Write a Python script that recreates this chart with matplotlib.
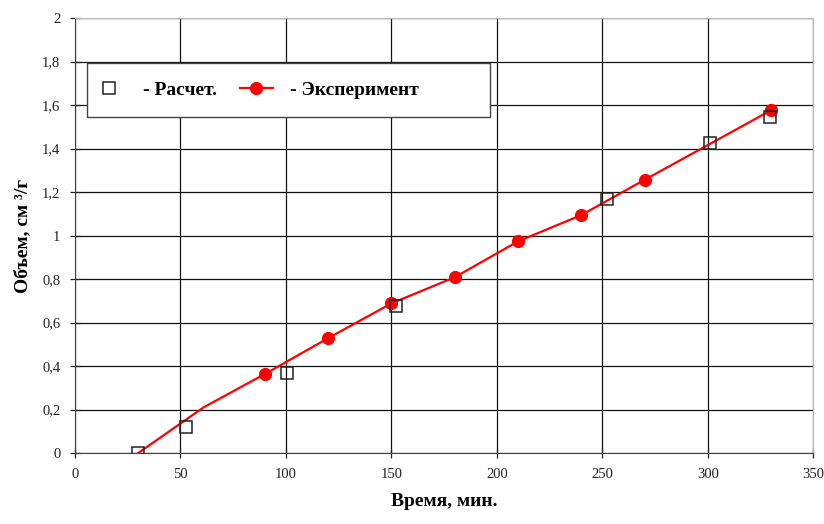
import matplotlib
matplotlib.use('Agg')
import matplotlib.pyplot as plt
from matplotlib.ticker import FuncFormatter, MultipleLocator
from matplotlib.lines import Line2D
from matplotlib.patches import Rectangle

plt.rcParams['font.family'] = ['Liberation Serif', 'DejaVu Serif']

# calculated points (squares)
calc_t = [30, 52.5, 100.5, 152, 252, 301, 329.5]
calc_v = [0.0, 0.12, 0.37, 0.675, 1.167, 1.427, 1.543]

# experimental line (first two points have no marker)
exp_t = [30, 61, 90, 120, 150, 180, 210, 240, 270, 330]
exp_v = [0.0, 0.21, 0.363, 0.528, 0.688, 0.808, 0.973, 1.094, 1.256, 1.576]
exp_marked = list(range(2, len(exp_t)))

fig = plt.figure(figsize=(8.24, 5.24), dpi=100)
ax = fig.add_axes([0.091, 0.1355, 0.896, 0.83])

ax.plot(exp_t, exp_v, color='#ff0000', lw=1.6, marker='o', ms=8.5,
        markevery=exp_marked, zorder=3)
ax.plot(calc_t, calc_v, ls='none', marker='s', ms=9, mfc='none',
        mec='#222222', mew=1.1, zorder=4)

ax.set_xlim(0, 350)
ax.set_ylim(0, 2)
ax.xaxis.set_major_locator(MultipleLocator(50))
ax.yaxis.set_major_locator(MultipleLocator(0.2))
ax.yaxis.set_major_formatter(FuncFormatter(lambda v, p: ('%g' % round(v, 1)).replace('.', ',')))
ax.grid(True, color='#111111', lw=0.9)
ax.set_axisbelow(True)
ax.tick_params(direction='inout', length=7, width=0.9, labelsize=10.5, colors='#222222', pad=7)
for s in ['left', 'bottom']:
    ax.spines[s].set_color('#444444')
for s in ['top', 'right']:
    ax.spines[s].set_color('#bbbbbb')

ax.set_xlabel('Время, мин.', fontsize=14, fontweight='bold', labelpad=9)
ax.set_ylabel('Объем, см ³/г', fontsize=14, fontweight='bold', labelpad=8)

# legend frame drawn separately (box wider than its content)
ax.add_patch(Rectangle((0.0163, 0.772), 0.546, 0.125, transform=ax.transAxes,
                       facecolor='white', edgecolor='#444444', lw=1.0, zorder=5))
h1 = Line2D([], [], ls='none', marker='s', ms=9, mfc='none', mec='#222222', mew=1.1)
h2 = Line2D([], [], color='#ff0000', lw=1.6, marker='o', ms=8.5)
leg = ax.legend([h1, h2], ['- Расчет.', '- Эксперимент'], loc='center left',
                bbox_to_anchor=(0.024, 0.834), ncol=2, frameon=False,
                prop={'weight': 'bold', 'size': 14}, handlelength=1.7,
                handletextpad=0.9, columnspacing=1.15, borderpad=0, borderaxespad=0)
leg.set_zorder(6)

fig.savefig('out.png', dpi=100)
